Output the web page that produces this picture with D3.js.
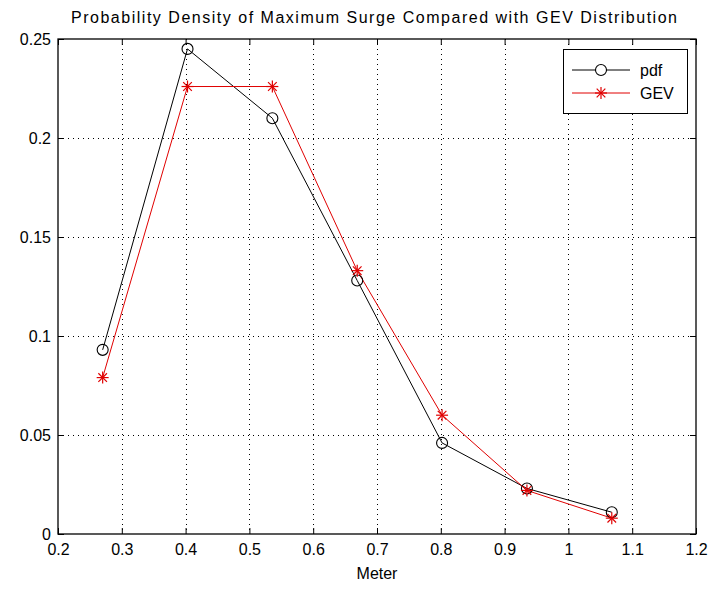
<!DOCTYPE html>
<html>
<head>
<meta charset="utf-8">
<script src="https://cdn.jsdelivr.net/npm/d3@7"></script>
<style>
  body { margin: 0; background: #fff; }
  text { font-family: "Liberation Sans", Arial, sans-serif; fill: #000; }
</style>
</head>
<body>
<div id="chart"></div>
<script>
// bin centres (m) and densities
var meters = [0.27, 0.403, 0.536, 0.669, 0.802, 0.935, 1.068];
var pdfVals = [0.093, 0.245, 0.210, 0.128, 0.046, 0.023, 0.011];
var gevVals = [0.079, 0.226, 0.226, 0.133, 0.060, 0.022, 0.008];
var xTicks = [0.2, 0.3, 0.4, 0.5, 0.6, 0.7, 0.8, 0.9, 1, 1.1, 1.2];
var yTicks = [0, 0.05, 0.1, 0.15, 0.2, 0.25];

var width = 709, height = 590;
var pLeft = 58, pRight = 696, pTop = 39, pBottom = 534;

var svg = d3.select('#chart').append('svg')
    .attr('width', width)
    .attr('height', height);

var x = d3.scaleLinear().domain([0.2, 1.2]).range([pLeft, pRight]);
var y = d3.scaleLinear().domain([0, 0.25]).range([pBottom, pTop]);

// dotted grid
var grid = svg.append('g').attr('stroke', '#000').attr('stroke-width', 1)
    .attr('stroke-dasharray', '1,4');
xTicks.slice(1, -1).forEach(function(t) {
  grid.append('line').attr('x1', Math.round(x(t)) + 0.5).attr('x2', Math.round(x(t)) + 0.5)
    .attr('y1', pTop).attr('y2', pBottom);
});
yTicks.slice(1, -1).forEach(function(t) {
  grid.append('line').attr('y1', Math.round(y(t)) + 0.5).attr('y2', Math.round(y(t)) + 0.5)
    .attr('x1', pLeft).attr('x2', pRight);
});

// axes, ticks pointing inward like matlab
var fmt = function(d) { return String(+d.toFixed(2)); };
var xAxis = svg.append('g').attr('transform', 'translate(0,' + pBottom + ')')
    .call(d3.axisBottom(x).tickValues(xTicks).tickSize(-6).tickPadding(7).tickFormat(fmt));
var xTop = svg.append('g').attr('transform', 'translate(0,' + pTop + ')')
    .call(d3.axisTop(x).tickValues(xTicks).tickSize(-6).tickFormat(''));
var yAxis = svg.append('g').attr('transform', 'translate(' + pLeft + ',0)')
    .call(d3.axisLeft(y).tickValues(yTicks).tickSize(-6).tickPadding(7).tickFormat(fmt));
var yRight = svg.append('g').attr('transform', 'translate(' + pRight + ',0)')
    .call(d3.axisRight(y).tickValues(yTicks).tickSize(-6).tickFormat(''));

[xAxis, xTop, yAxis, yRight].forEach(function(a) {
  a.select('.domain').remove();
  a.selectAll('line').attr('stroke', '#000');
  a.selectAll('text').style('font-size', '16px').attr('fill', '#000');
});
xAxis.selectAll('.tick text').attr('y', 10).attr('dy', '0.71em');

svg.append('rect').attr('x', pLeft).attr('y', pTop)
    .attr('width', pRight - pLeft).attr('height', pBottom - pTop)
    .attr('fill', 'none').attr('stroke', '#000').attr('stroke-width', 1.3);

// series
var line = d3.line().x(function(d) { return x(d[0]); }).y(function(d) { return y(d[1]); });
var pdfPts = d3.zip(meters, pdfVals);
var gevPts = d3.zip(meters, gevVals);

svg.append('path').attr('d', line(pdfPts)).attr('fill', 'none')
    .attr('stroke', '#000').attr('stroke-width', 1);
svg.append('path').attr('d', line(gevPts)).attr('fill', 'none')
    .attr('stroke', '#e00000').attr('stroke-width', 1);

var drawStar = function(g, cx, cy, r) {
  var s = g.append('g').attr('stroke', '#e00000').attr('stroke-width', 1.2);
  s.append('line').attr('x1', cx - r).attr('x2', cx + r).attr('y1', cy).attr('y2', cy);
  s.append('line').attr('x1', cx).attr('x2', cx).attr('y1', cy - r).attr('y2', cy + r);
  var k = r * 0.72;
  s.append('line').attr('x1', cx - k).attr('x2', cx + k).attr('y1', cy - k).attr('y2', cy + k);
  s.append('line').attr('x1', cx - k).attr('x2', cx + k).attr('y1', cy + k).attr('y2', cy - k);
};

svg.selectAll('.circ').data(pdfPts).enter().append('circle')
    .attr('cx', function(d) { return x(d[0]); })
    .attr('cy', function(d) { return y(d[1]); })
    .attr('r', 5.5).attr('fill', 'none').attr('stroke', '#000').attr('stroke-width', 1.1);

gevPts.forEach(function(d) { drawStar(svg, x(d[0]), y(d[1]), 6); });

// title and label
svg.append('text').attr('x', 71).attr('y', 23)
    .attr('textLength', 606).attr('lengthAdjust', 'spacing')
    .style('font-size', '16px')
    .text('Probability Density of Maximum Surge Compared with GEV Distribution');
svg.append('text').attr('x', (pLeft + pRight) / 2).attr('y', 579)
    .attr('text-anchor', 'middle').style('font-size', '16px').text('Meter');

// legend
var lg = svg.append('g');
lg.append('rect').attr('x', 563.5).attr('y', 49.5).attr('width', 124).attr('height', 64)
    .attr('fill', '#fff').attr('stroke', '#000').attr('stroke-width', 1);
lg.append('line').attr('x1', 572).attr('x2', 630).attr('y1', 70).attr('y2', 70).attr('stroke', '#000');
lg.append('circle').attr('cx', 601).attr('cy', 70).attr('r', 5.5)
    .attr('fill', '#fff').attr('stroke', '#000').attr('stroke-width', 1.1);
lg.append('text').attr('x', 640).attr('y', 76).style('font-size', '16px').text('pdf');
lg.append('line').attr('x1', 572).attr('x2', 630).attr('y1', 93).attr('y2', 93).attr('stroke', '#e00000');
drawStar(lg, 601, 93, 6);
lg.append('text').attr('x', 640).attr('y', 99).style('font-size', '16px').text('GEV');
</script>
</body>
</html>
